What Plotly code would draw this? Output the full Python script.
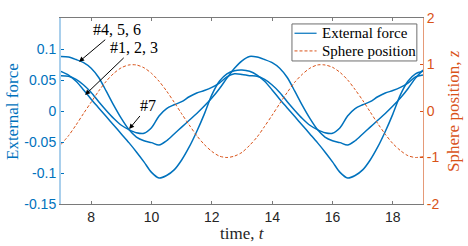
import plotly.graph_objects as go

# time grid
t = [7.0, 7.25, 7.5, 7.75, 8.0, 8.25, 8.5, 8.75, 9.0, 9.25, 9.5, 9.75,
     10.0, 10.25, 10.5, 10.75, 11.0, 11.25, 11.5, 11.75, 12.0, 12.25, 12.5, 12.75,
     13.0, 13.25, 13.5, 13.75, 14.0, 14.25, 14.5, 14.75, 15.0, 15.25, 15.5, 15.75,
     16.0, 16.25, 16.5, 16.75, 17.0, 17.25, 17.5, 17.75, 18.0, 18.25, 18.5, 18.75, 19.0]

# external force, sensors #4,5,6
force_456 = [0.088, 0.087, 0.083, 0.078, 0.069, 0.054, 0.032, 0.009, -0.012, -0.030, -0.042, -0.048,
             -0.051, -0.055, -0.048, -0.037, -0.026, -0.015, -0.004, 0.008, 0.021, 0.036, 0.053, 0.069,
             0.081, 0.088, 0.087, 0.083, 0.078, 0.069, 0.054, 0.032, 0.009, -0.012, -0.030, -0.042,
             -0.048, -0.051, -0.055, -0.048, -0.037, -0.026, -0.015, -0.004, 0.008, 0.021, 0.036, 0.053, 0.066]

# external force, sensors #1,2,3
force_123 = [0.064, 0.058, 0.048, 0.034, 0.019, 0.005, -0.009, -0.023, -0.037, -0.051, -0.066, -0.082,
             -0.099, -0.108, -0.104, -0.095, -0.079, -0.058, -0.033, -0.005, 0.026, 0.048, 0.060, 0.065,
             0.066, 0.064, 0.058, 0.048, 0.034, 0.019, 0.005, -0.009, -0.023, -0.037, -0.051, -0.066,
             -0.082, -0.099, -0.108, -0.104, -0.095, -0.079, -0.058, -0.033, -0.005, 0.026, 0.048, 0.060, 0.064]

# external force, sensor #7
force_7 = [0.057, 0.056, 0.051, 0.042, 0.030, 0.015, 0.001, -0.012, -0.023, -0.030, -0.035, -0.036,
           -0.027, -0.008, 0.004, 0.010, 0.015, 0.023, 0.029, 0.033, 0.038, 0.045, 0.055, 0.060,
           0.059, 0.057, 0.056, 0.051, 0.042, 0.030, 0.015, 0.001, -0.012, -0.023, -0.030, -0.035,
           -0.036, -0.027, -0.008, 0.004, 0.010, 0.015, 0.023, 0.029, 0.033, 0.038, 0.045, 0.055, 0.058]

# sphere position z
sphere_z = [-0.72, -0.53, -0.30, -0.05, 0.19, 0.43, 0.64, 0.81, 0.93, 0.99, 0.99, 0.93,
            0.81, 0.64, 0.43, 0.19, -0.06, -0.30, -0.53, -0.72, -0.87, -0.97, -1.00, -0.97,
            -0.89, -0.74, -0.56, -0.33, -0.09, 0.16, 0.40, 0.62, 0.79, 0.92, 0.99, 0.99,
            0.94, 0.83, 0.67, 0.46, 0.23, -0.02, -0.27, -0.50, -0.70, -0.85, -0.96, -1.00, -0.98]

x_ticks = [8, 10, 12, 14, 16, 18]
y_ticks = [-0.15, -0.1, -0.05, 0, 0.05, 0.1]
y_ticktext = ["-0.15", "-0.1", "-0.05", "0", "0.05", "0.1"]
y2_ticks = [-2, -1, 0, 1, 2]
y2_ticktext = ["-2", "-1", "0", "1", "2"]
legend_names = ["External force", "Sphere position"]

BLUE = "#0072BD"
ORANGE = "#D95319"
SERIF = "Liberation Serif, Times New Roman, serif"
SANS = "Liberation Sans, Arial, sans-serif"
SPHERE_DASH = "3px,2px"

fig = go.Figure()
for i, ys in enumerate([force_456, force_123, force_7]):
    fig.add_trace(go.Scatter(
        x=t, y=ys, mode="lines", name=legend_names[0],
        line=dict(color=BLUE, width=1.5, shape="spline", smoothing=0.8),
        showlegend=False, yaxis="y"))

fig.add_trace(go.Scatter(
    x=t, y=sphere_z, mode="lines", name=legend_names[1],
    line=dict(color=ORANGE, width=1, dash=SPHERE_DASH, shape="spline", smoothing=0.8),
    showlegend=False, yaxis="y2"))

ann = [
    dict(text="#4, 5, 6", x=7.60, y=0.0795, ax=38, ay=-32),
    dict(text="#1, 2, 3", x=7.80, y=0.026, ax=49, ay=-47),
    dict(text="#7", x=9.26, y=-0.029, ax=19, ay=-23),
]
for a in ann:
    fig.add_annotation(
        text=a["text"], x=a["x"], y=a["y"], xref="x", yref="y",
        ax=a["ax"], ay=a["ay"], showarrow=True,
        arrowhead=2, arrowsize=1, arrowwidth=1, arrowcolor="black",
        font=dict(family=SERIF, size=16, color="black"))

# legend box (drawn in paper coordinates)
fig.add_shape(type="rect", xref="paper", yref="paper",
              x0=0.638, x1=0.983, y0=0.769, y1=0.968,
              line=dict(color="#6e6e6e", width=1), fillcolor="white", layer="above")
fig.add_shape(type="line", xref="paper", yref="paper",
              x0=0.645, x1=0.706, y0=0.918, y1=0.918,
              line=dict(color=BLUE, width=1.2), layer="above")
fig.add_shape(type="line", xref="paper", yref="paper",
              x0=0.645, x1=0.706, y0=0.823, y1=0.823,
              line=dict(color=ORANGE, width=1, dash=SPHERE_DASH), layer="above")
for name, yy in zip(legend_names, [0.918, 0.823]):
    fig.add_annotation(text=name, xref="paper", yref="paper", x=0.7155, y=yy,
                       xanchor="left", yanchor="middle", showarrow=False,
                       font=dict(family=SERIF, size=15, color="black"))

# axis titles
fig.add_annotation(text="External force", xref="paper", yref="paper", x=-0.1354, y=0.5,
                   textangle=-90, showarrow=False, xanchor="center", yanchor="middle",
                   font=dict(family=SERIF, size=17, color=BLUE))
fig.add_annotation(text="Sphere position, <i>z</i>", xref="paper", yref="paper", x=1.083, y=0.5,
                   textangle=-90, showarrow=False, xanchor="center", yanchor="middle",
                   font=dict(family=SERIF, size=17, color=ORANGE))
fig.add_annotation(text="time, <i>t</i>", xref="paper", yref="paper", x=0.5, y=-0.156,
                   showarrow=False, xanchor="center", yanchor="middle",
                   font=dict(family=SERIF, size=17, color="#262626"))

fig.update_layout(
    width=468, height=246,
    margin=dict(l=61, r=45, t=18, b=42, autoexpand=False),
    paper_bgcolor="white", plot_bgcolor="white",
    showlegend=False,
    xaxis=dict(
        range=[7, 19], tickvals=x_ticks, ticks="inside", ticklen=3,
        tickcolor="#7a7a7a", showline=True, linecolor="#7a7a7a", linewidth=1,
        mirror="ticks", showgrid=False, zeroline=False, automargin=False,
        tickfont=dict(family=SANS, size=14, color="#262626"),
    ),
    yaxis=dict(
        range=[-0.15, 0.15], tickvals=y_ticks, ticktext=y_ticktext,
        ticks="inside", ticklen=3, tickcolor=BLUE,
        showline=True, linecolor="#A9CFEC", linewidth=2,
        showgrid=False, zeroline=False, automargin=False,
        tickfont=dict(family=SANS, size=14, color=BLUE),
    ),
    yaxis2=dict(
        range=[-2, 2], tickvals=y2_ticks, ticktext=y2_ticktext,
        overlaying="y", side="right",
        ticks="inside", ticklen=3, tickcolor=ORANGE,
        showline=True, linecolor="#E59A78", linewidth=1,
        showgrid=False, zeroline=False, automargin=False,
        tickfont=dict(family=SANS, size=14, color=ORANGE),
    ),
)

fig.write_html("out.html", config={"displayModeBar": False},
               post_script="document.body.style.margin='0px';")
